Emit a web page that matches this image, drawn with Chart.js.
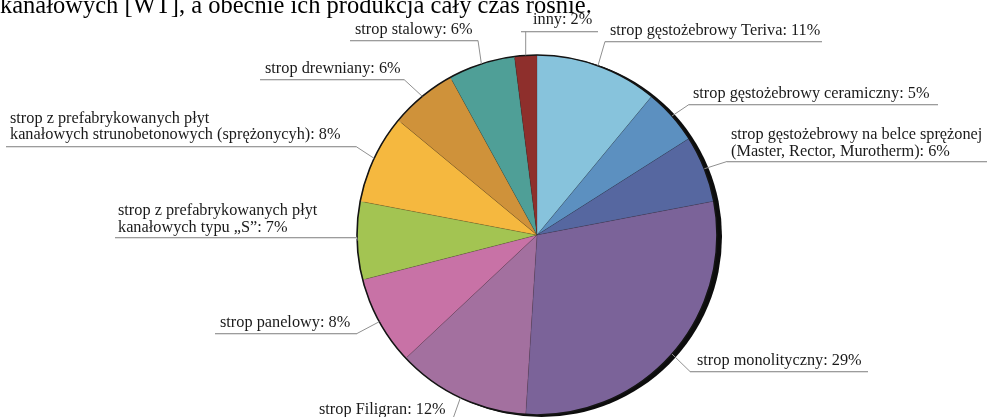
<!DOCTYPE html>
<html>
<head>
<meta charset="utf-8">
<script src="https://cdn.jsdelivr.net/npm/chart.js@4.4.1/dist/chart.umd.min.js"></script>
<style>
  html, body { margin: 0; padding: 0; background: #ffffff; overflow: hidden; }
  #wrap { position: relative; width: 987px; height: 417px; }
</style>
</head>
<body>
<div id="wrap"><canvas id="c" width="987" height="417"></canvas></div>
<script>
// Floor types and their shares (%), clockwise from 12 o'clock
const categories = [
  'strop gęstożebrowy Teriva',
  'strop gęstożebrowy ceramiczny',
  'strop gęstożebrowy na belce sprężonej\n(Master, Rector, Murotherm)',
  'strop monolityczny',
  'strop Filigran',
  'strop panelowy',
  'strop z prefabrykowanych płyt\nkanałowych typu „S”',
  'strop z prefabrykowanych płyt\nkanałowych strunobetonowych (sprężonycyh)',
  'strop drewniany',
  'strop stalowy',
  'inny'
];
const shares = [11, 5, 6, 29, 12, 8, 7, 8, 6, 6, 2];

const sliceColors = [
  '#87c3dc', '#5c90c0', '#5667a0', '#7b6399', '#a3709f', '#c872a6',
  '#a3c452', '#f5b83f', '#cf923a', '#4f9f97', '#8e2f2c'
];

// Text running above the chart (continuation of the page text)
const headLine = 'kanałowych [WT], a obecnie ich produkcja cały czas rośnie.';

// Placement of each callout: text origin, baselines, underline span, joint with leader
const calloutLayout = [
  { x: 610, base: [35],       ul: 41,  ux: [605, 822], join: [605, 41] },
  { x: 693, base: [98],       ul: 104, ux: [689, 938], join: [689, 104] },
  { x: 731, base: [139, 156], ul: 161, ux: [727, 987], join: [727, 161] },
  { x: 697, base: [365],      ul: 371, ux: [690, 868], join: [690, 371] },
  { x: 319, base: [414],      ul: 421, ux: [315, 452], join: [452, 421] },
  { x: 220, base: [327],      ul: 333, ux: [215, 357], join: [357, 333] },
  { x: 118, base: [215, 232], ul: 237, ux: [115, 357], join: [357, 237] },
  { x: 10,  base: [123, 139], ul: 146, ux: [6, 356],   join: [356, 146] },
  { x: 265, base: [73],       ul: 79,  ux: [260, 404], join: [404, 79] },
  { x: 355, base: [34],       ul: 40,  ux: [350, 478], join: [478, 40] },
  { x: 533, base: [24],       ul: 31,  ux: [521, 598], join: null }
];

const SERIF = '"Liberation Serif", "DejaVu Serif", serif';

const pieFrame = {
  id: 'pieFrame',
  beforeDatasetsDraw(chart) {
    const arc = chart.getDatasetMeta(0).data[0];
    if (!arc) return;
    const ctx = chart.ctx;
    ctx.save();
    ctx.fillStyle = '#0d0d0d';
    ctx.beginPath();
    ctx.arc(arc.x + 4.5, arc.y + 1.5, arc.outerRadius + 0.5, 0, Math.PI * 2);
    ctx.fill();
    ctx.restore();
  },
  afterDatasetsDraw(chart) {
    const arc = chart.getDatasetMeta(0).data[0];
    if (!arc) return;
    const ctx = chart.ctx;
    ctx.save();
    ctx.strokeStyle = '#141414';
    ctx.lineWidth = 1.6;
    ctx.beginPath();
    ctx.arc(arc.x, arc.y, arc.outerRadius, 0, Math.PI * 2);
    ctx.stroke();
    ctx.restore();
  }
};

const callouts = {
  id: 'callouts',
  afterDraw(chart) {
    const ctx = chart.ctx;
    const arcs = chart.getDatasetMeta(0).data;
    ctx.save();

    // page text above the chart
    ctx.fillStyle = '#000000';
    ctx.font = '24.5px ' + SERIF;
    ctx.textAlign = 'left';
    ctx.textBaseline = 'alphabetic';
    ctx.fillText(headLine, 0, 13);

    ctx.font = '16.3px ' + SERIF;
    arcs.forEach((arc, i) => {
      const L = calloutLayout[i];
      const p = arc.getProps(['x', 'y', 'startAngle', 'endAngle', 'outerRadius'], true);
      const mid = (p.startAngle + p.endAngle) / 2;
      const ax = p.x + Math.cos(mid) * p.outerRadius;
      const ay = p.y + Math.sin(mid) * p.outerRadius;

      // underline with soft shade below
      ctx.lineWidth = 1;
      ctx.strokeStyle = '#e0e0e0';
      ctx.beginPath();
      ctx.moveTo(L.ux[0], L.ul + 1.5);
      ctx.lineTo(L.ux[1], L.ul + 1.5);
      ctx.stroke();
      ctx.strokeStyle = '#9c9c9c';
      ctx.beginPath();
      ctx.moveTo(L.ux[0], L.ul + 0.5);
      ctx.lineTo(L.ux[1], L.ul + 0.5);
      ctx.stroke();

      // leader from slice edge to underline
      const jx = L.join ? L.join[0] : ax;
      const jy = L.join ? L.join[1] : L.ul;
      ctx.strokeStyle = '#909090';
      ctx.beginPath();
      ctx.moveTo(ax, ay);
      ctx.lineTo(jx, jy + 0.5);
      ctx.stroke();

      // label text
      const lines = (categories[i] + ': ' + shares[i] + '%').split('\n');
      ctx.fillStyle = '#1a1a1a';
      lines.forEach((t, k) => ctx.fillText(t, L.x, L.base[k]));
    });
    ctx.restore();
  }
};

new Chart(document.getElementById('c'), {
  type: 'pie',
  data: {
    labels: categories,
    datasets: [{
      data: shares,
      backgroundColor: sliceColors,
      borderColor: 'rgba(30,30,30,0.18)',
      borderWidth: 0.7,
      hoverOffset: 0,
      radius: 180
    }]
  },
  options: {
    responsive: false,
    animation: false,
    events: [],
    rotation: 0,
    layout: { padding: { left: 87, right: 0, top: 53, bottom: 0 } },
    plugins: {
      legend: { display: false },
      tooltip: { enabled: false },
      title: { display: false }
    }
  },
  plugins: [pieFrame, callouts]
});
</script>
</body>
</html>
